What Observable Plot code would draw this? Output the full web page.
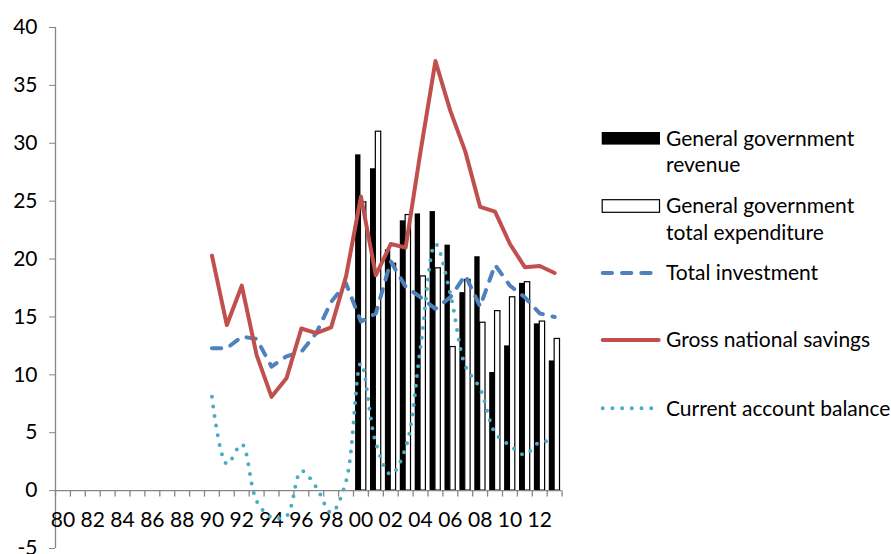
<!DOCTYPE html>
<html>
<head>
<meta charset="utf-8">
<script src="https://cdn.jsdelivr.net/npm/d3@7"></script>
<script src="https://cdn.jsdelivr.net/npm/@observablehq/plot@0.6"></script>
<style>
  html, body { margin: 0; padding: 0; background: #fff; }
  #wrap { position: relative; width: 891px; height: 554px; overflow: hidden; }
  #legend { position: absolute; left: 0; top: 0; pointer-events: none; }
</style>
</head>
<body>
<div id="wrap"></div>
<script>
// ---- Data ----
const tickYears = [1980, 1982, 1984, 1986, 1988, 1990, 1992, 1994, 1996, 1998, 2000, 2002, 2004, 2006, 2008, 2010, 2012];
const tickLabels = ["80", "82", "84", "86", "88", "90", "92", "94", "96", "98", "00", "02", "04", "06", "08", "10", "12"];
const yTicks = [-5, 0, 5, 10, 15, 20, 25, 30, 35, 40];

const barYears = [2000, 2001, 2002, 2003, 2004, 2005, 2006, 2007, 2008, 2009, 2010, 2011, 2012, 2013];
const revenue = [29.0, 27.8, 20.8, 23.3, 23.9, 24.1, 21.2, 17.1, 20.2, 10.2, 12.5, 17.9, 14.4, 11.2];
const expenditure = [24.9, 31.0, 19.6, 23.8, 18.5, 19.2, 12.4, 18.2, 14.5, 15.5, 16.7, 18.0, 14.6, 13.1];

const lineYears = [1990, 1991, 1992, 1993, 1994, 1995, 1996, 1997, 1998, 1999, 2000, 2001, 2002, 2003, 2004, 2005, 2006, 2007, 2008, 2009, 2010, 2011, 2012, 2013];
const investment = [12.3, 12.3, 13.3, 13.1, 10.7, 11.6, 12.0, 13.6, 16.3, 17.9, 14.6, 15.3, 19.8, 17.6, 16.7, 15.7, 16.7, 18.6, 15.9, 19.5, 17.7, 16.7, 15.3, 15.0];
const savings = [20.3, 14.3, 17.7, 11.7, 8.1, 9.7, 14.0, 13.6, 14.1, 18.5, 25.4, 18.6, 21.3, 21.0, 29.3, 37.1, 32.8, 29.3, 24.5, 24.1, 21.3, 19.3, 19.4, 18.8];
const currentAccount = [8.1, 2.3, 4.0, -0.9, -2.3, -2.2, 1.7, 0.3, -1.9, 0.8, 11.0, 4.1, 1.4, 3.7, 12.4, 21.3, 17.0, 10.8, 8.8, 5.0, 3.9, 3.1, 4.2, 4.2];

const categoryBounds = [1980, 1981, 1982, 1983, 1984, 1985, 1986, 1987, 1988, 1989, 1990, 1991, 1992, 1993, 1994, 1995, 1996, 1997, 1998, 1999, 2000, 2001, 2002, 2003, 2004, 2005, 2006, 2007, 2008, 2009, 2010, 2011, 2012, 2013, 2014];

const legendItems = [
  {kind: "revenue", lines: ["General government", "revenue"]},
  {kind: "expenditure", lines: ["General government", "total expenditure"]},
  {kind: "investment", lines: ["Total investment"]},
  {kind: "savings", lines: ["Gross national savings"]},
  {kind: "current", lines: ["Current account balance"]}
];

// ---- Build tables ----
const rev = barYears.map((year, i) => ({year, value: revenue[i]}));
const exp = barYears.map((year, i) => ({year, value: expenditure[i]}));
const inv = lineYears.map((year, i) => ({year, value: investment[i]}));
const sav = lineYears.map((year, i) => ({year, value: savings[i]}));
const cab = lineYears.map((year, i) => ({year, value: currentAccount[i]}));
const xLabels = tickYears.map((year, i) => ({year, label: tickLabels[i]}));

const FONT = "Lato, 'Open Sans', sans-serif";
const AXIS = "#868686";
const BLUE = "#4F81BD", RED = "#C0504D", TEAL = "#4BACC6";

const tickSymbol = { draw(context) { context.moveTo(0, 0); context.lineTo(0, 6); } };

const chart = Plot.plot({
  width: 891,
  height: 554,
  marginLeft: 55,
  marginRight: 329.4,
  marginTop: 27,
  marginBottom: 6,
  style: {fontFamily: FONT, fontSize: "21px", color: "#000", background: "#fff", overflow: "visible"},
  x: {domain: [1980, 2014], axis: null},
  y: {domain: [-5, 40], axis: null},
  marks: [
    Plot.axisY({ticks: yTicks, label: null, tickSize: 6, tickPadding: 12, stroke: AXIS, fill: "#000", fontSize: 21, tickFormat: d => d < 0 ? "-" + Math.abs(d) : String(d)}),
    Plot.ruleX([1980], {stroke: AXIS, strokeWidth: 1.3}),
    Plot.rectY(rev, {x1: d => d.year + 0.14, x2: d => d.year + 0.5, y: "value", fill: "#000"}),
    Plot.rectY(exp, {x1: d => d.year + 0.5, x2: d => d.year + 0.86, y: "value", fill: "#fff", stroke: "#000", strokeWidth: 1.2}),
    Plot.ruleY([0], {stroke: AXIS, strokeWidth: 1.3}),
    Plot.dot(categoryBounds, {x: d => d, y: 0, symbol: tickSymbol, r: 3, stroke: AXIS, fill: "none", strokeWidth: 1.3}),
    Plot.text(xLabels, {x: d => d.year + 0.5, y: 0, text: "label", dy: 30, fontSize: 21, fill: "#000"}),
    Plot.line(inv, {x: d => d.year + 0.5, y: "value", stroke: BLUE, strokeWidth: 4, strokeDasharray: "9.3,10", strokeLinecap: "round", strokeLinejoin: "round"}),
    Plot.line(sav, {x: d => d.year + 0.5, y: "value", stroke: RED, strokeWidth: 4, strokeLinejoin: "round", strokeLinecap: "round"}),
    Plot.line(cab, {x: d => d.year + 0.5, y: "value", stroke: TEAL, strokeWidth: 4, strokeDasharray: "0,9.7", strokeLinecap: "round", curve: "catmull-rom"})
  ]
});

const wrap = document.getElementById("wrap");
wrap.appendChild(chart);

// ---- Legend ----
const lg = d3.select(wrap).append("svg")
  .attr("id", "legend")
  .attr("width", 891).attr("height", 554)
  .style("font-family", FONT).style("font-size", "21px");

const rowCenters = [138.3, 206, 273, 340, 408.3];
const lineGap = 26.7;
legendItems.forEach((item, i) => {
  const cy = rowCenters[i];
  const g = lg.append("g");
  if (item.kind === "revenue") {
    g.append("rect").attr("x", 601.7).attr("y", cy - 6.3).attr("width", 58.3).attr("height", 12.6).attr("fill", "#000");
  } else if (item.kind === "expenditure") {
    g.append("rect").attr("x", 602.2).attr("y", cy - 6.3).attr("width", 57.3).attr("height", 12.6).attr("fill", "#fff").attr("stroke", "#000").attr("stroke-width", 1.2);
  } else if (item.kind === "investment") {
    g.append("line").attr("x1", 602.7).attr("x2", 660).attr("y1", cy).attr("y2", cy)
      .attr("stroke", BLUE).attr("stroke-width", 4).attr("stroke-dasharray", "9.3,10").attr("stroke-linecap", "round");
  } else if (item.kind === "savings") {
    g.append("line").attr("x1", 602.7).attr("x2", 658.7).attr("y1", cy).attr("y2", cy)
      .attr("stroke", RED).attr("stroke-width", 4).attr("stroke-linecap", "round");
  } else {
    g.append("line").attr("x1", 602.7).attr("x2", 655).attr("y1", cy).attr("y2", cy)
      .attr("stroke", TEAL).attr("stroke-width", 4).attr("stroke-dasharray", "0,9.7").attr("stroke-linecap", "round");
  }
  item.lines.forEach((t, j) => {
    g.append("text").attr("x", 666).attr("y", cy + j * lineGap).attr("dy", "0.35em").attr("fill", "#000").text(t);
  });
});
</script>
</body>
</html>
